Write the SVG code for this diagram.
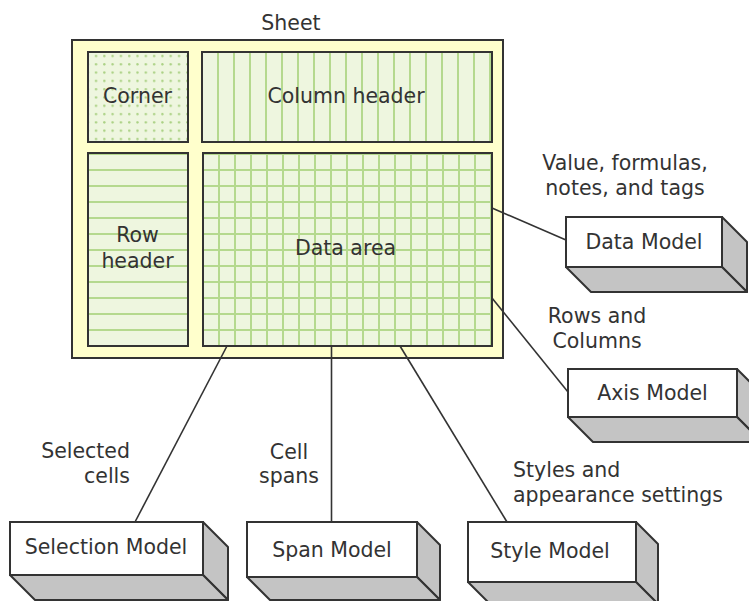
<svg xmlns="http://www.w3.org/2000/svg" width="749" height="601" viewBox="0 0 749 601">
<style>
text{font-family:"DejaVu Sans",Verdana,sans-serif;font-size:20.5px;fill:#333}
.m{text-anchor:middle}
.e{text-anchor:end}
.area{stroke:#333;stroke-width:2}
.front{fill:#fff;stroke:#333;stroke-width:2}
.side{fill:#c4c4c4;stroke:#333;stroke-width:2;stroke-linejoin:round}
.conn{stroke:#333;stroke-width:1.6;fill:none}
</style>
<defs>
<pattern id="grid" patternUnits="userSpaceOnUse" x="195" y="146" width="16" height="16">
<rect width="16" height="16" fill="#eef6df"/>
<path d="M8 0V16M0 8H16" stroke="#b5d98e" stroke-width="2"/>
</pattern>
<pattern id="vlines" patternUnits="userSpaceOnUse" x="194" y="52" width="16" height="16">
<rect width="16" height="16" fill="#eef6df"/>
<path d="M8 0V16" stroke="#b5d98e" stroke-width="2"/>
</pattern>
<pattern id="hlines" patternUnits="userSpaceOnUse" x="88" y="146" width="16" height="16">
<rect width="16" height="16" fill="#eef6df"/>
<path d="M0 8H16" stroke="#b5d98e" stroke-width="2"/>
</pattern>
<pattern id="dots" patternUnits="userSpaceOnUse" x="92" y="52" width="8.3" height="8.3">
<rect width="8.3" height="8.3" fill="#eef6df"/>
<circle cx="4" cy="4" r="1.2" fill="#aad183"/>
</pattern>
</defs>

<g id="sheet">
<text class="m" x="291" y="30">Sheet</text>
<rect x="72" y="40" width="431" height="318" fill="#ffffcc" stroke="#333" stroke-width="2"/>
</g>
<g id="corner">
<rect class="area" x="88" y="52" width="100" height="90" fill="url(#dots)"/>
<text class="m" x="137.5" y="103">Corner</text>
</g>
<g id="column-header">
<rect class="area" x="202" y="52" width="290" height="90" fill="url(#vlines)"/>
<text class="m" x="346" y="103">Column header</text>
</g>
<g id="row-header">
<rect class="area" x="88" y="153" width="100" height="193" fill="url(#hlines)"/>
<text class="m" x="137.5" y="242">Row</text>
<text class="m" x="137.5" y="268">header</text>
</g>
<g id="data-area">
<rect class="area" x="203" y="153" width="289" height="193" fill="url(#grid)"/>
<text class="m" x="345.5" y="255">Data area</text>
</g>

<g id="connectors">
<line class="conn" x1="492" y1="208" x2="566" y2="240"/>
<line class="conn" x1="492" y1="298" x2="568" y2="392"/>
<line class="conn" x1="227" y1="346" x2="135" y2="522"/>
<line class="conn" x1="331.5" y1="346" x2="331.5" y2="522"/>
<line class="conn" x1="400" y1="346" x2="507" y2="522"/>
</g>

<g id="labels">
<text class="m" x="625" y="170">Value, formulas,</text>
<text class="m" x="625" y="195">notes, and tags</text>
<text class="m" x="597" y="323">Rows and</text>
<text class="m" x="597" y="348">Columns</text>
<text class="e" x="130" y="458">Selected</text>
<text class="e" x="130" y="483">cells</text>
<text class="m" x="289" y="459">Cell</text>
<text class="m" x="289" y="483">spans</text>
<text x="513" y="477">Styles and</text>
<text x="513" y="502">appearance settings</text>
</g>

<g id="data-model">
<polygon class="side" points="722,217 747,242 747,292 722,267"/>
<polygon class="side" points="566,267 722,267 747,292 591,292"/>
<rect class="front" x="566" y="217" width="156" height="50"/>
<text class="m" x="644" y="249">Data Model</text>
</g>
<g id="axis-model">
<polygon class="side" points="737,369 762,394 762,442 737,417"/>
<polygon class="side" points="568,417 737,417 762,442 593,442"/>
<rect class="front" x="568" y="369" width="169" height="48"/>
<text class="m" x="652.5" y="400">Axis Model</text>
</g>
<g id="selection-model">
<polygon class="side" points="203,522 228,547 228,600 203,575"/>
<polygon class="side" points="10,575 203,575 228,600 35,600"/>
<rect class="front" x="10" y="522" width="193" height="53"/>
<text class="m" x="106" y="554">Selection Model</text>
</g>
<g id="span-model">
<polygon class="side" points="417,522 440,545 440,600 417,577"/>
<polygon class="side" points="247,577 417,577 440,600 270,600"/>
<rect class="front" x="247" y="522" width="170" height="55"/>
<text class="m" x="332" y="557">Span Model</text>
</g>
<g id="style-model">
<polygon class="side" points="636,522 658,544 658,604 636,582"/>
<polygon class="side" points="468,582 636,582 658,604 490,604"/>
<rect class="front" x="468" y="522" width="168" height="60"/>
<text class="m" x="550" y="558">Style Model</text>
</g>
</svg>
